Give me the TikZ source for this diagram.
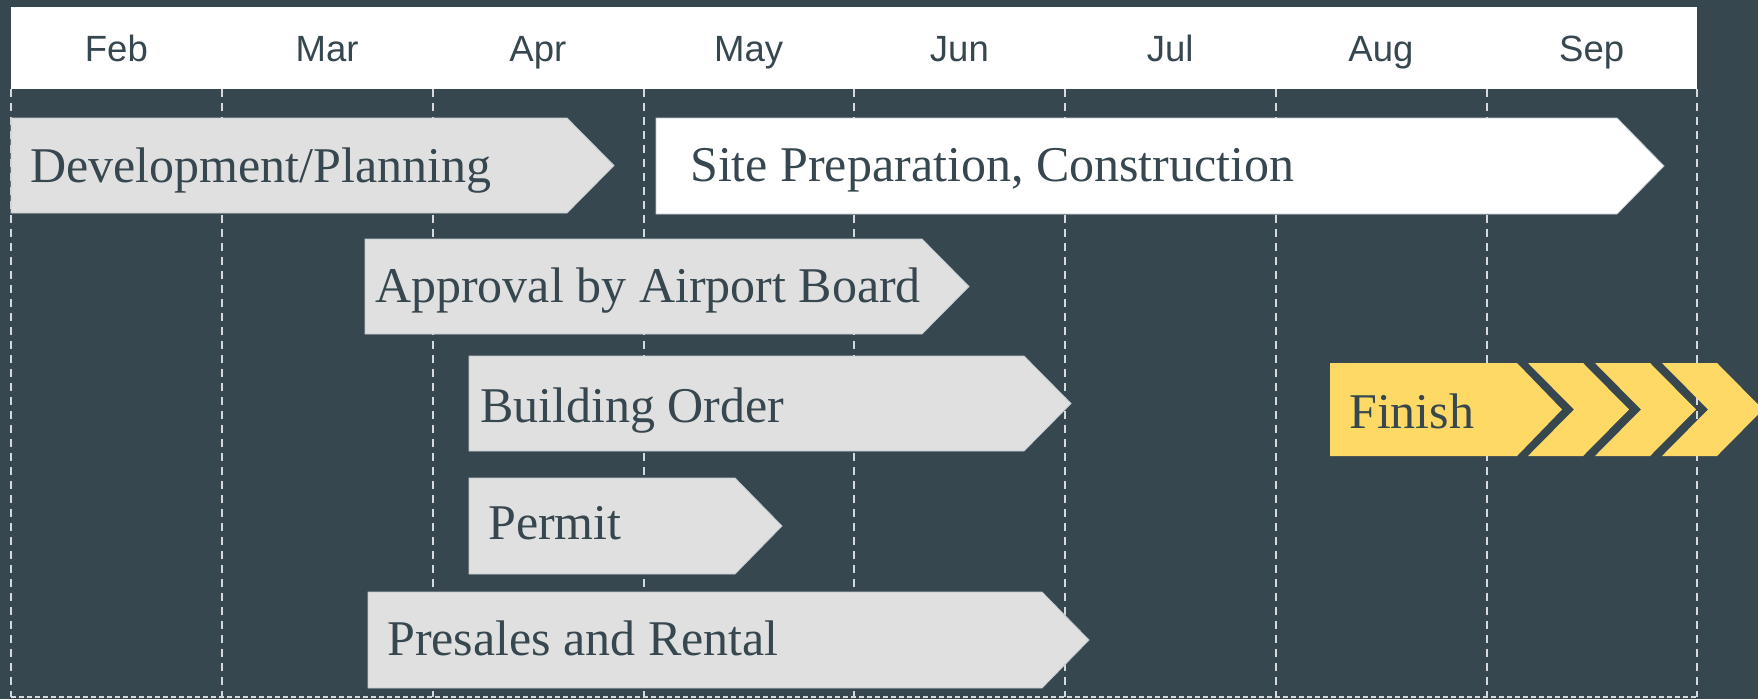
\documentclass[tikz,border=0pt]{standalone}
\usepackage{fontspec}
\setmainfont{Liberation Serif}
\setsansfont{Liberation Sans}

\definecolor{slate}{HTML}{37474F}
\definecolor{bargrey}{HTML}{E0E0E0}
\definecolor{baredge}{HTML}{C3CBCF}
\definecolor{gridline}{HTML}{D5D9DB}
\definecolor{finishyellow}{HTML}{FFD966}

\begin{document}
\begin{tikzpicture}[x=1pt,y=1pt]
            \tikzstyle{every node}+=[inner sep=0pt]
            \tikzstyle{month}=[font=\sffamily\fontsize{36.5}{36.5}\selectfont, text=slate, anchor=base]
            \tikzstyle{task}=[font=\fontsize{50}{50}\selectfont, text=slate, anchor=base west]
            \tikzstyle{grid}=[draw=gridline, line width=2.2pt, dash pattern=on 8pt off 6pt]
            \tikzstyle{greybar}=[fill=bargrey, draw=baredge, line width=0.8pt]
            \tikzstyle{whitebar}=[fill=white, draw=baredge, line width=0.8pt]
            \tikzstyle{yellowbar}=[fill=finishyellow]
            \useasboundingbox (0,0) rectangle (1758,-699);
            \fill [slate] (0,0) rectangle (1758,-699);
            % header with the months
            \fill [white] (11,-7) rectangle (1697,-89);
            \foreach \m [count=\i] in {Feb,Mar,Apr,May,Jun,Jul,Aug,Sep}
              \node [month] (\m) at ({11+210.75*(\i-0.5)},-61) {\m};
            % month grid
            \foreach \x in {11,222,433,644,854,1065,1276,1487,1697}
              \draw [grid] (\x,-89) -- (\x,-697);
            \draw [grid, line width=1.6pt, dash pattern=on 5pt off 3pt] (11,-697) -- (1697,-697);
            % tasks
            \fill [greybar] (11,-118) -- (567,-118) -- (614,-165.5) -- (567,-213) -- (11,-213) -- cycle;
            \node [task] (dev) at (30,-182.5) {Development/Planning};
            \fill [whitebar] (656,-118) -- (1617,-118) -- (1664,-166) -- (1617,-214) -- (656,-214) -- cycle;
            \node [task] (site) at (690,-181) {Site Preparation, Construction};
            \fill [greybar] (365,-239) -- (922,-239) -- (969,-286.5) -- (922,-334) -- (365,-334) -- cycle;
            \node [task] (approval) at (375,-302) {Approval by Airport Board};
            \fill [greybar] (469,-356) -- (1024,-356) -- (1071,-403.5) -- (1024,-451) -- (469,-451) -- cycle;
            \node [task] (order) at (480,-422) {Building Order};
            \fill [greybar] (469,-478) -- (735,-478) -- (782,-526) -- (735,-574) -- (469,-574) -- cycle;
            \node [task] (permit) at (488,-539) {Permit};
            \fill [greybar] (368,-592) -- (1042,-592) -- (1089,-640) -- (1042,-688) -- (368,-688) -- cycle;
            \node [task] (presales) at (387,-655) {Presales and Rental};
            % finish with chevrons
            \fill [yellowbar] (1330,-363) -- (1517,-363) -- (1562,-409.5) -- (1517,-456) -- (1330,-456) -- cycle;
            \foreach \x in {1528,1595,1662}
              \fill [yellowbar] (\x,-363) -- (\x+55,-363) -- (\x+101,-409.5) -- (\x+55,-456) -- (\x,-456) -- (\x+46,-409.5) -- cycle;
            \node [task] (finish) at (1349,-428) {Finish};
        \end{tikzpicture}
\end{document}
